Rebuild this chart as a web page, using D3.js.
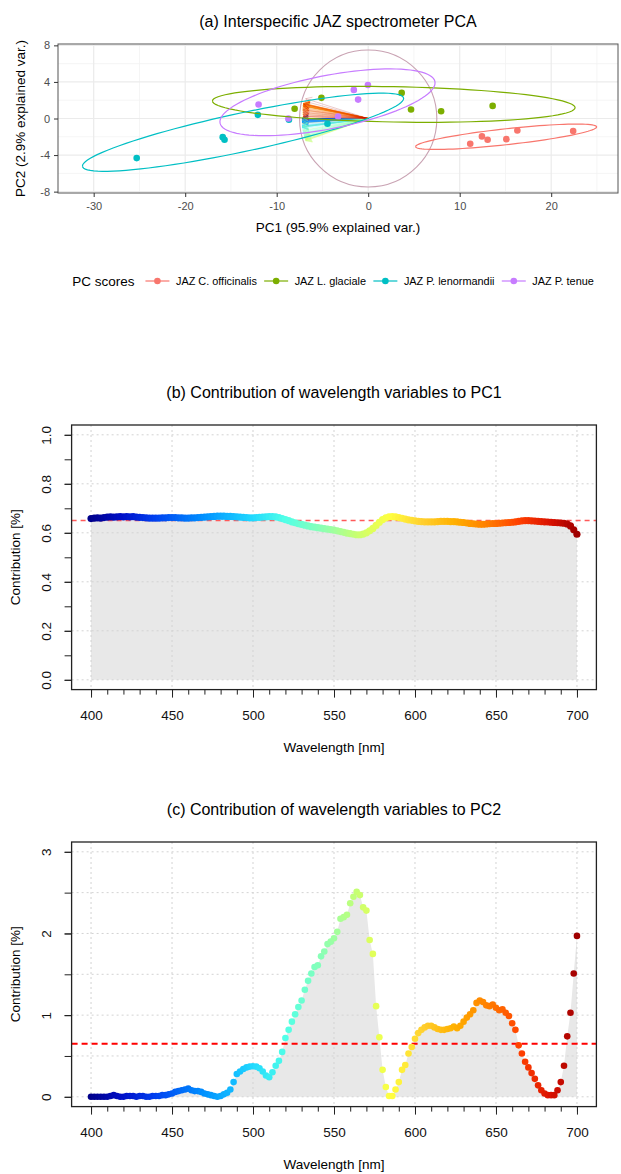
<!DOCTYPE html>
<html>
<head>
<meta charset="utf-8">
<script src="https://cdn.jsdelivr.net/npm/d3@7"></script>
<style>
  body { margin: 0; background: #fff; }
  svg { font-family: "Liberation Sans", Arial, sans-serif; }
</style>
</head>
<body>
<svg id="chart" width="621" height="1174"></svg>
<script>
// ---- PCA scores (panel a) ----
const species = ["JAZ C. officinalis", "JAZ L. glaciale", "JAZ P. lenormandii", "JAZ P. tenue"];
const speciesColors = ["#F8766D", "#7CAE00", "#00BFC4", "#C77CFF"];
const scoresPC1 = [
    [11.15, 12.43, 13.05, 15.10, 16.30, 22.40],
    [-8.04, -5.11, 3.66, 4.68, 7.97, 13.60],
    [-25.30, -15.90, -15.70, -12.06, -8.66, -4.45],
    [-11.98, -8.72, -3.29, -1.57, -1.10, -0.03]
];
const scoresPC2 = [
    [-2.76, -1.96, -2.32, -2.26, -1.31, -1.38],
    [1.06, 2.26, 2.80, 0.98, 0.80, 1.38],
    [-4.33, -2.04, -2.32, 0.40, -0.14, -0.58],
    [1.53, 0.00, 0.22, 3.13, 2.07, 3.67]
];
const pc1Var = 95.9, pc2Var = 2.9;
const ellipseProb = 0.95;
const circleRadius = 7.5;
const varScale = 88.7;          // arrow length scaling of the loadings
const pc2SignChange = 585;      // PC2 loadings are negative below, positive above
const pcaXTicks = [-30, -20, -10, 0, 10, 20];
const pcaXMinor = [-25, -15, -5, 5, 15, 25];
const pcaYTicks = [-8, -4, 0, 4, 8];
const pcaYMinor = [-6, -2, 2, 6];

// ---- wavelength contributions (panels b, c) ----
const wavelengths = d3.range(400, 701, 2);
const contribPC1 = [
    0.658, 0.660, 0.661, 0.660, 0.662, 0.664, 0.665, 0.664, 0.665, 0.666,
    0.665, 0.666, 0.665, 0.666, 0.664, 0.663, 0.662, 0.661, 0.660, 0.660,
    0.660, 0.660, 0.661, 0.661, 0.662, 0.662, 0.662, 0.661, 0.661, 0.660,
    0.660, 0.661, 0.661, 0.662, 0.663, 0.664, 0.665, 0.666, 0.667, 0.668,
    0.668, 0.668, 0.667, 0.667, 0.666, 0.665, 0.664, 0.663, 0.662, 0.661,
    0.661, 0.662, 0.663, 0.664, 0.665, 0.666, 0.666, 0.665, 0.662, 0.658,
    0.654, 0.650, 0.645, 0.641, 0.637, 0.634, 0.631, 0.628, 0.625, 0.623,
    0.621, 0.619, 0.617, 0.615, 0.613, 0.611, 0.608, 0.605, 0.602, 0.599,
    0.597, 0.594, 0.592, 0.592, 0.595, 0.600, 0.608, 0.618, 0.630, 0.643,
    0.654, 0.661, 0.665, 0.666, 0.665, 0.662, 0.659, 0.656, 0.653, 0.651,
    0.649, 0.647, 0.646, 0.645, 0.645, 0.645, 0.645, 0.646, 0.647, 0.647,
    0.647, 0.646, 0.646, 0.645, 0.643, 0.642, 0.640, 0.638, 0.637, 0.636,
    0.635, 0.635, 0.636, 0.637, 0.638, 0.638, 0.639, 0.640, 0.641, 0.642,
    0.643, 0.645, 0.647, 0.649, 0.650, 0.650, 0.649, 0.648, 0.647, 0.646,
    0.645, 0.644, 0.643, 0.642, 0.641, 0.640, 0.639, 0.636, 0.628, 0.612,
    0.594
];
const contribPC2 = [
    0.00, 0.00, 0.00, 0.00, 0.00, 0.00, 0.01, 0.02, 0.01, 0.00,
    0.00, 0.01, 0.01, 0.01, 0.00, 0.01, 0.01, 0.00, 0.00, 0.01,
    0.01, 0.01, 0.02, 0.02, 0.03, 0.04, 0.06, 0.07, 0.08, 0.09,
    0.10, 0.08, 0.07, 0.07, 0.06, 0.04, 0.03, 0.02, 0.01, 0.00,
    0.01, 0.03, 0.05, 0.09, 0.18, 0.28, 0.31, 0.34, 0.36, 0.37,
    0.375, 0.37, 0.35, 0.31, 0.26, 0.24, 0.30, 0.38, 0.44, 0.55,
    0.72, 0.82, 0.92, 1.01, 1.10, 1.18, 1.31, 1.42, 1.51, 1.59,
    1.61, 1.72, 1.78, 1.87, 1.90, 1.94, 2.02, 2.18, 2.20, 2.23,
    2.37, 2.45, 2.51, 2.47, 2.32, 2.28, 1.92, 1.75, 1.11, 0.73,
    0.33, 0.12, 0.01, 0.01, 0.09, 0.18, 0.33, 0.39, 0.53, 0.61,
    0.71, 0.78, 0.82, 0.85, 0.87, 0.87, 0.85, 0.83, 0.82, 0.82,
    0.83, 0.84, 0.86, 0.84, 0.87, 0.92, 0.97, 1.01, 1.06, 1.15,
    1.18, 1.16, 1.12, 1.11, 1.13, 1.09, 1.06, 1.07, 1.03, 0.99,
    0.90, 0.82, 0.63, 0.53, 0.43, 0.36, 0.29, 0.22, 0.14, 0.08,
    0.04, 0.02, 0.02, 0.02, 0.08, 0.18, 0.38, 0.74, 1.03, 1.51,
    1.97
];
const expectedContrib = 0.65;
const wlMajorTicks = [400, 450, 500, 550, 600, 650, 700];
const wlMinorTicks = d3.range(400, 701, 10);
const pc1YTicks = [0, 0.1, 0.2, 0.3, 0.4, 0.5, 0.6, 0.7, 0.8, 0.9, 1.0];
const pc1YLabels = [0, 0.2, 0.4, 0.6, 0.8, 1.0];
const pc2YTicks = [0, 0.5, 1, 1.5, 2, 2.5, 3];
const pc2YLabels = [0, 1, 2, 3];

// spectral colour ramp for the wavelengths
const specStops = [400, 420, 440, 470, 500, 520, 545, 565, 585, 605, 625, 645, 665, 685, 700];
const specColors = ["#00008B", "#0010C8", "#0040F0", "#0090FF", "#20D8FF", "#50FFE8", "#90FFB0",
                    "#C8FF70", "#FFFF40", "#FFD030", "#FFB000", "#FF8000", "#FF4000", "#D81000", "#A00000"];
const specColor = d3.scaleLinear().domain(specStops).range(specColors).interpolate(d3.interpolateRgb);

const svg = d3.select("#chart");
const font = "Liberation Sans, Arial, sans-serif";

// =================== (a) PCA biplot ===================
const pa = {left: 58, right: 618, top: 44, bottom: 193};
const xA = d3.scaleLinear().domain([-33.9, 27.3]).range([pa.left, pa.right]);
const yA = d3.scaleLinear().domain([-8.15, 8.15]).range([pa.bottom, pa.top]);

svg.append("text")
    .attr("x", (pa.left + pa.right) / 2).attr("y", 21).attr("dy", "0.35em")
    .attr("text-anchor", "middle").attr("font-size", 16)
    .text("(a) Interspecific JAZ spectrometer PCA");

svg.append("defs").append("clipPath").attr("id", "clipA")
    .append("rect").attr("x", pa.left).attr("y", pa.top)
    .attr("width", pa.right - pa.left).attr("height", pa.bottom - pa.top);

const gA = svg.append("g").attr("clip-path", "url(#clipA)");

gA.selectAll("line.minx").data(pcaXMinor).enter().append("line")
    .attr("x1", xA).attr("x2", xA).attr("y1", pa.top).attr("y2", pa.bottom)
    .attr("stroke", "#F2F2F2").attr("stroke-width", 0.8);
gA.selectAll("line.miny").data(pcaYMinor).enter().append("line")
    .attr("y1", yA).attr("y2", yA).attr("x1", pa.left).attr("x2", pa.right)
    .attr("stroke", "#F2F2F2").attr("stroke-width", 0.8);
gA.selectAll("line.majx").data(pcaXTicks).enter().append("line")
    .attr("x1", xA).attr("x2", xA).attr("y1", pa.top).attr("y2", pa.bottom)
    .attr("stroke", "#EBEBEB").attr("stroke-width", 1.2);
gA.selectAll("line.majy").data(pcaYTicks).enter().append("line")
    .attr("y1", yA).attr("y2", yA).attr("x1", pa.left).attr("x2", pa.right)
    .attr("stroke", "#EBEBEB").attr("stroke-width", 1.2);

// correlation circle
gA.append("ellipse")
    .attr("cx", xA(0)).attr("cy", yA(0))
    .attr("rx", xA(circleRadius) - xA(0)).attr("ry", yA(0) - yA(circleRadius))
    .attr("fill", "none").attr("stroke", "#C9A3B3").attr("stroke-width", 1.1);

// variable arrows
const s1 = varScale, s2 = varScale * Math.sqrt(pc2Var / pc1Var);
const loadings = wavelengths.map(function (w, i) {
    return {
        w: w,
        x: -Math.sqrt(contribPC1[i] / 100) * s1,
        y: (w >= pc2SignChange ? 1 : -1) * Math.sqrt(contribPC2[i] / 100) * s2
    };
});
gA.append("g").selectAll("path").data(loadings).enter().append("path")
    .attr("d", function (d) {
        const x0 = xA(0), y0 = yA(0), x1 = xA(d.x), y1 = yA(d.y);
        const a = Math.atan2(y1 - y0, x1 - x0), len = 7, sp = Math.PI / 6;
        const hx1 = x1 - len * Math.cos(a - sp), hy1 = y1 - len * Math.sin(a - sp);
        const hx2 = x1 - len * Math.cos(a + sp), hy2 = y1 - len * Math.sin(a + sp);
        return "M" + x0 + "," + y0 + "L" + x1 + "," + y1 +
            "M" + hx1 + "," + hy1 + "L" + x1 + "," + y1 + "L" + hx2 + "," + hy2;
    })
    .attr("fill", "none")
    .attr("stroke", function (d) { return specColor(d.w); })
    .attr("stroke-width", 1)
    .attr("stroke-opacity", 0.2);

// scores
species.forEach(function (s, k) {
    gA.append("g").selectAll("circle")
        .data(d3.zip(scoresPC1[k], scoresPC2[k]))
        .enter().append("circle")
        .attr("cx", function (d) { return xA(d[0]); })
        .attr("cy", function (d) { return yA(d[1]); })
        .attr("r", 3.3)
        .attr("fill", speciesColors[k]);
});

// normal ellipses, computed from the scores like ggbiplot does
const ed = Math.sqrt(-2 * Math.log(1 - ellipseProb));
species.forEach(function (s, k) {
    const xs = scoresPC1[k], ys = scoresPC2[k], n = xs.length;
    const mx = d3.mean(xs), my = d3.mean(ys);
    let sxx = 0, syy = 0, sxy = 0;
    for (let i = 0; i < n; i++) {
        sxx += (xs[i] - mx) * (xs[i] - mx);
        syy += (ys[i] - my) * (ys[i] - my);
        sxy += (xs[i] - mx) * (ys[i] - my);
    }
    sxx /= n - 1; syy /= n - 1; sxy /= n - 1;
    const r11 = Math.sqrt(sxx), r12 = sxy / r11, r22 = Math.sqrt(syy - r12 * r12);
    const ring = d3.range(0, 101).map(function (j) {
        const t = -Math.PI + j * 2 * Math.PI / 100;
        const c = Math.cos(t), sn = Math.sin(t);
        return [mx + ed * c * r11, my + ed * (c * r12 + sn * r22)];
    });
    gA.append("path")
        .attr("d", d3.line().x(function (d) { return xA(d[0]); }).y(function (d) { return yA(d[1]); })(ring))
        .attr("fill", "none").attr("stroke", speciesColors[k]).attr("stroke-width", 1.2);
});

svg.append("rect")
    .attr("x", pa.left).attr("y", pa.top)
    .attr("width", pa.right - pa.left).attr("height", pa.bottom - pa.top)
    .attr("fill", "none").attr("stroke", "#555").attr("stroke-width", 1);

function styleGG(sel) {
    sel.select(".domain").remove();
    sel.selectAll(".tick line").attr("stroke", "#333");
    sel.selectAll(".tick text").attr("fill", "#4D4D4D").attr("font-size", 11).attr("font-family", font);
}
svg.append("g").attr("transform", "translate(0," + pa.bottom + ")")
    .call(d3.axisBottom(xA).tickValues(pcaXTicks).tickSize(4).tickPadding(5)
        .tickFormat(function (d) { return String(d); }))
    .call(styleGG);
svg.append("g").attr("transform", "translate(" + pa.left + ",0)")
    .call(d3.axisLeft(yA).tickValues(pcaYTicks).tickSize(4).tickPadding(4)
        .tickFormat(function (d) { return String(d); }))
    .call(styleGG);

svg.append("text")
    .attr("x", (pa.left + pa.right) / 2).attr("y", 227).attr("dy", "0.35em")
    .attr("text-anchor", "middle").attr("font-size", 13.5)
    .text("PC1 (" + pc1Var + "% explained var.)");
svg.append("text")
    .attr("transform", "translate(20," + (pa.top + pa.bottom) / 2 + ") rotate(-90)")
    .attr("dy", "0.35em").attr("text-anchor", "middle").attr("font-size", 13.5)
    .text("PC2 (" + pc2Var + "% explained var.)");

// legend
const legend = svg.append("g");
const lgTitle = legend.append("text").attr("x", 0).attr("dy", "0.35em")
    .attr("font-size", 13.5).text("PC scores");
let lx = lgTitle.node().getComputedTextLength() + 11;
species.forEach(function (s, k) {
    const item = legend.append("g").attr("transform", "translate(" + lx + ",0)");
    item.append("line").attr("x1", 0).attr("x2", 24)
        .attr("stroke", speciesColors[k]).attr("stroke-width", 1.2);
    item.append("circle").attr("cx", 12).attr("r", 3.3).attr("fill", speciesColors[k]);
    const t = item.append("text").attr("x", 30.5).attr("dy", "0.35em")
        .attr("font-size", 10.9).text(s);
    lx += 30.5 + t.node().getComputedTextLength() + 7.3;
});
legend.attr("transform", "translate(" + (333 - (lx - 7.3) / 2) + ",281)");

// =================== (b), (c) contribution plots ===================
function drawContribution(cfg) {
    const x = d3.scaleLinear().domain([388, 712]).range([71.6, 596.4]);
    const y = d3.scaleLinear().domain(cfg.yDomain).range([cfg.bottom, cfg.top]);
    const g = svg.append("g");
    const pts = wavelengths.map(function (w, i) { return {w: w, v: cfg.values[i]}; });
    const left = x.range()[0], right = x.range()[1];

    g.append("text")
        .attr("x", (left + right) / 2).attr("y", cfg.top - 33).attr("dy", "0.35em")
        .attr("text-anchor", "middle").attr("font-size", 16).text(cfg.title);

    g.append("path").datum(pts)
        .attr("d", d3.area().x(function (d) { return x(d.w); })
            .y0(y(0)).y1(function (d) { return y(d.v); }))
        .attr("fill", "#E8E8E8");

    g.selectAll("line.gx").data(wlMajorTicks).enter().append("line")
        .attr("x1", x).attr("x2", x).attr("y1", cfg.top).attr("y2", cfg.bottom)
        .attr("stroke", "#D3D3D3").attr("stroke-dasharray", "2,3");
    g.selectAll("line.gy").data(cfg.gridTicks).enter().append("line")
        .attr("y1", y).attr("y2", y).attr("x1", left).attr("x2", right)
        .attr("stroke", "#D3D3D3").attr("stroke-dasharray", "2,3");

    g.append("line")
        .attr("x1", left).attr("x2", right)
        .attr("y1", y(expectedContrib)).attr("y2", y(expectedContrib))
        .attr("stroke", cfg.lineColor).attr("stroke-width", cfg.lineWidth)
        .attr("stroke-dasharray", cfg.dash);

    g.append("g").selectAll("circle").data(pts).enter().append("circle")
        .attr("cx", function (d) { return x(d.w); })
        .attr("cy", function (d) { return y(d.v); })
        .attr("r", cfg.dotR)
        .attr("fill", function (d) { return specColor(d.w); });

    g.append("rect")
        .attr("x", left).attr("y", cfg.top)
        .attr("width", right - left).attr("height", cfg.bottom - cfg.top)
        .attr("fill", "none").attr("stroke", "#222").attr("stroke-width", 1.3);

    function styleBase(sel) {
        sel.select(".domain").remove();
        sel.selectAll(".tick line").attr("stroke", "#222");
        sel.selectAll(".tick text").attr("fill", "#111").attr("font-size", 13.5).attr("font-family", font);
    }
    g.append("g").attr("transform", "translate(0," + cfg.bottom + ")")
        .call(d3.axisBottom(x).tickValues(wlMinorTicks).tickSize(5).tickFormat(""))
        .call(styleBase);
    g.append("g").attr("transform", "translate(0," + cfg.bottom + ")")
        .call(d3.axisBottom(x).tickValues(wlMajorTicks).tickSize(8).tickPadding(13)
            .tickFormat(d3.format("d")))
        .call(styleBase);
    g.append("g").attr("transform", "translate(" + left + ",0)")
        .call(d3.axisLeft(y).tickValues(cfg.yTicks).tickSize(7).tickFormat(""))
        .call(styleBase);
    const yl = g.append("g").attr("transform", "translate(" + left + ",0)")
        .call(d3.axisLeft(y).tickValues(cfg.yLabels).tickSize(7).tickFormat(d3.format(cfg.fmt)))
        .call(styleBase);
    yl.selectAll(".tick text")
        .attr("x", null).attr("dy", "0.35em").attr("text-anchor", "middle")
        .attr("transform", "translate(-25,0) rotate(-90)");

    g.append("text")
        .attr("x", (left + right) / 2).attr("y", cfg.bottom + 58).attr("dy", "0.35em")
        .attr("text-anchor", "middle").attr("font-size", 13.5).text("Wavelength [nm]");
    g.append("text")
        .attr("transform", "translate(15," + (cfg.top + cfg.bottom) / 2 + ") rotate(-90)")
        .attr("dy", "0.35em").attr("text-anchor", "middle").attr("font-size", 13.5)
        .text("Contribution [%]");
}

drawContribution({
    title: "(b) Contribution of wavelength variables to PC1",
    values: contribPC1,
    top: 425, bottom: 689.6,
    yDomain: [-0.04, 1.04],
    yTicks: pc1YTicks, yLabels: pc1YLabels, gridTicks: pc1YLabels, fmt: ".1f",
    lineColor: "#FF5A5A", lineWidth: 1.4, dash: "5,4", dotR: 3.6
});
drawContribution({
    title: "(c) Contribution of wavelength variables to PC2",
    values: contribPC2,
    top: 842, bottom: 1106.6,
    yDomain: [-0.12, 3.12],
    yTicks: pc2YTicks, yLabels: pc2YLabels, gridTicks: pc2YTicks, fmt: "d",
    lineColor: "#FF0000", lineWidth: 2, dash: "6,4", dotR: 3.3
});
</script>
</body>
</html>
